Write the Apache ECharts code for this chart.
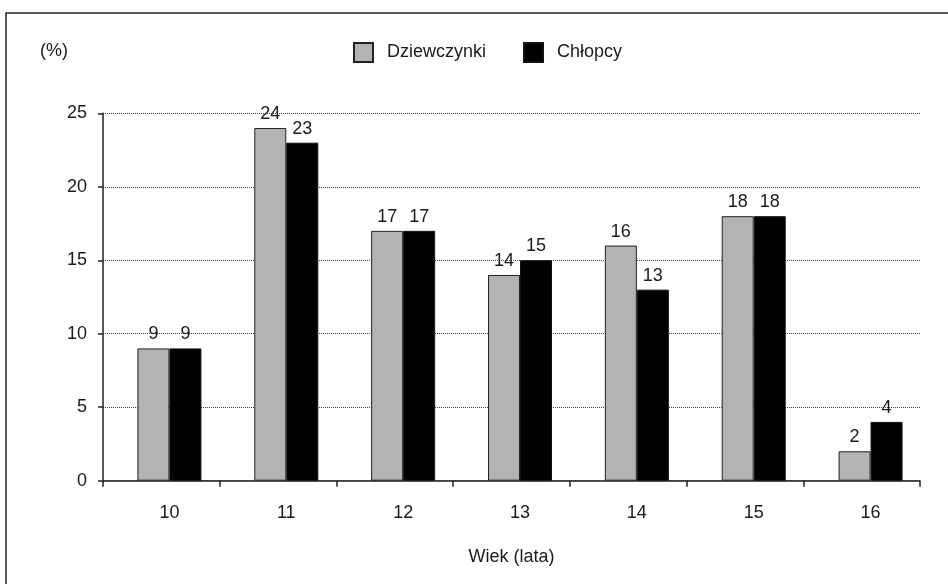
<!DOCTYPE html>
<html>
<head>
<meta charset="utf-8">
<script src="https://cdn.jsdelivr.net/npm/echarts@6/dist/echarts.min.js"></script>
<style>
  html, body { margin: 0; padding: 0; background: #fff; }
  #chart { width: 948px; height: 584px; }
</style>
</head>
<body>
<div id="chart"></div>
<script>
// Age groups (years) and shares (%) for girls and boys
const ages = ['10', '11', '12', '13', '14', '15', '16'];
const girls = [9, 24, 17, 14, 16, 18, 2];
const boys = [9, 23, 17, 15, 13, 18, 4];
const yTicks = [0, 5, 10, 15, 20, 25];

const FONT = "'Liberation Sans', Arial, sans-serif";
const FS = 18;
const INK = '#1a1a1a';

const chart = echarts.init(document.getElementById('chart'), null, { renderer: 'canvas' });

const yMin = yTicks[0];
const yMax = yTicks[yTicks.length - 1];
const yStep = yTicks[1] - yTicks[0];

chart.setOption({
  animation: false,
  backgroundColor: '#fff',
  textStyle: { fontFamily: FONT, color: INK },
  legend: {
    data: ['Dziewczynki', 'Chłopcy'],
    left: 353,
    top: 42,
    icon: 'rect',
    itemWidth: 19,
    itemHeight: 19,
    itemGap: 37,
    padding: 0,
    textStyle: { fontFamily: FONT, fontSize: FS, color: INK, padding: [0, 0, 0, 9] }
  },
  grid: [
    // frame grid: axes, ticks and gridlines
    { left: 103, top: 113.3, width: 817, height: 367.4 },
    // bar grid
    { left: 111, top: 113.3, width: 818, height: 367.4 }
  ],
  xAxis: [
    {
      gridIndex: 0,
      type: 'category',
      data: ages,
      boundaryGap: true,
      axisLine: { lineStyle: { color: '#222', width: 1.5 } },
      axisTick: { show: true, length: 6, inside: false, lineStyle: { color: '#222', width: 1.5 } },
      axisLabel: { show: false },
      name: 'Wiek (lata)',
      nameLocation: 'middle',
      nameGap: 67,
      nameTextStyle: { fontFamily: FONT, fontSize: FS, color: INK }
    },
    {
      gridIndex: 1,
      type: 'category',
      data: ages,
      boundaryGap: true,
      axisLine: { show: false },
      axisTick: { show: false },
      axisLabel: { fontFamily: FONT, fontSize: FS, color: INK, margin: 23 }
    }
  ],
  yAxis: [
    {
      gridIndex: 0,
      type: 'value',
      min: yMin,
      max: yMax,
      interval: yStep,
      axisLine: { show: true, lineStyle: { color: '#222', width: 1.5 } },
      axisTick: { show: true, length: 5, lineStyle: { color: '#222', width: 1.5 } },
      axisLabel: { fontFamily: FONT, fontSize: FS, color: INK, margin: 16 },
      splitLine: { show: true, lineStyle: { color: '#444', width: 1, type: [1, 1] } }
    },
    {
      gridIndex: 1,
      type: 'value',
      min: yMin,
      max: yMax,
      interval: yStep,
      show: false,
      splitLine: { show: false }
    }
  ],
  graphic: [
    {
      type: 'polyline',
      shape: { points: [[6, 700], [6, 13], [1000, 13]] },
      style: { stroke: '#222', lineWidth: 1.5, fill: null },
      silent: true
    },
    {
      type: 'text',
      left: 40,
      top: 42,
      style: { text: '(%)', fontFamily: FONT, fontSize: FS, fill: INK }
    }
  ],
  series: [
    {
      name: 'Dziewczynki',
      type: 'bar',
      xAxisIndex: 1,
      yAxisIndex: 1,
      data: girls,
      barWidth: 32,
      barGap: '0%',
      itemStyle: { color: '#b3b3b3', borderColor: '#222', borderWidth: 1 },
      label: { show: true, position: 'top', distance: 5, fontFamily: FONT, fontSize: FS, color: INK }
    },
    {
      name: 'Chłopcy',
      type: 'bar',
      xAxisIndex: 1,
      yAxisIndex: 1,
      data: boys,
      barWidth: 32,
      barGap: '0%',
      itemStyle: { color: '#000', borderColor: '#111', borderWidth: 1 },
      label: { show: true, position: 'top', distance: 5, fontFamily: FONT, fontSize: FS, color: INK }
    }
  ]
});
</script>
</body>
</html>
